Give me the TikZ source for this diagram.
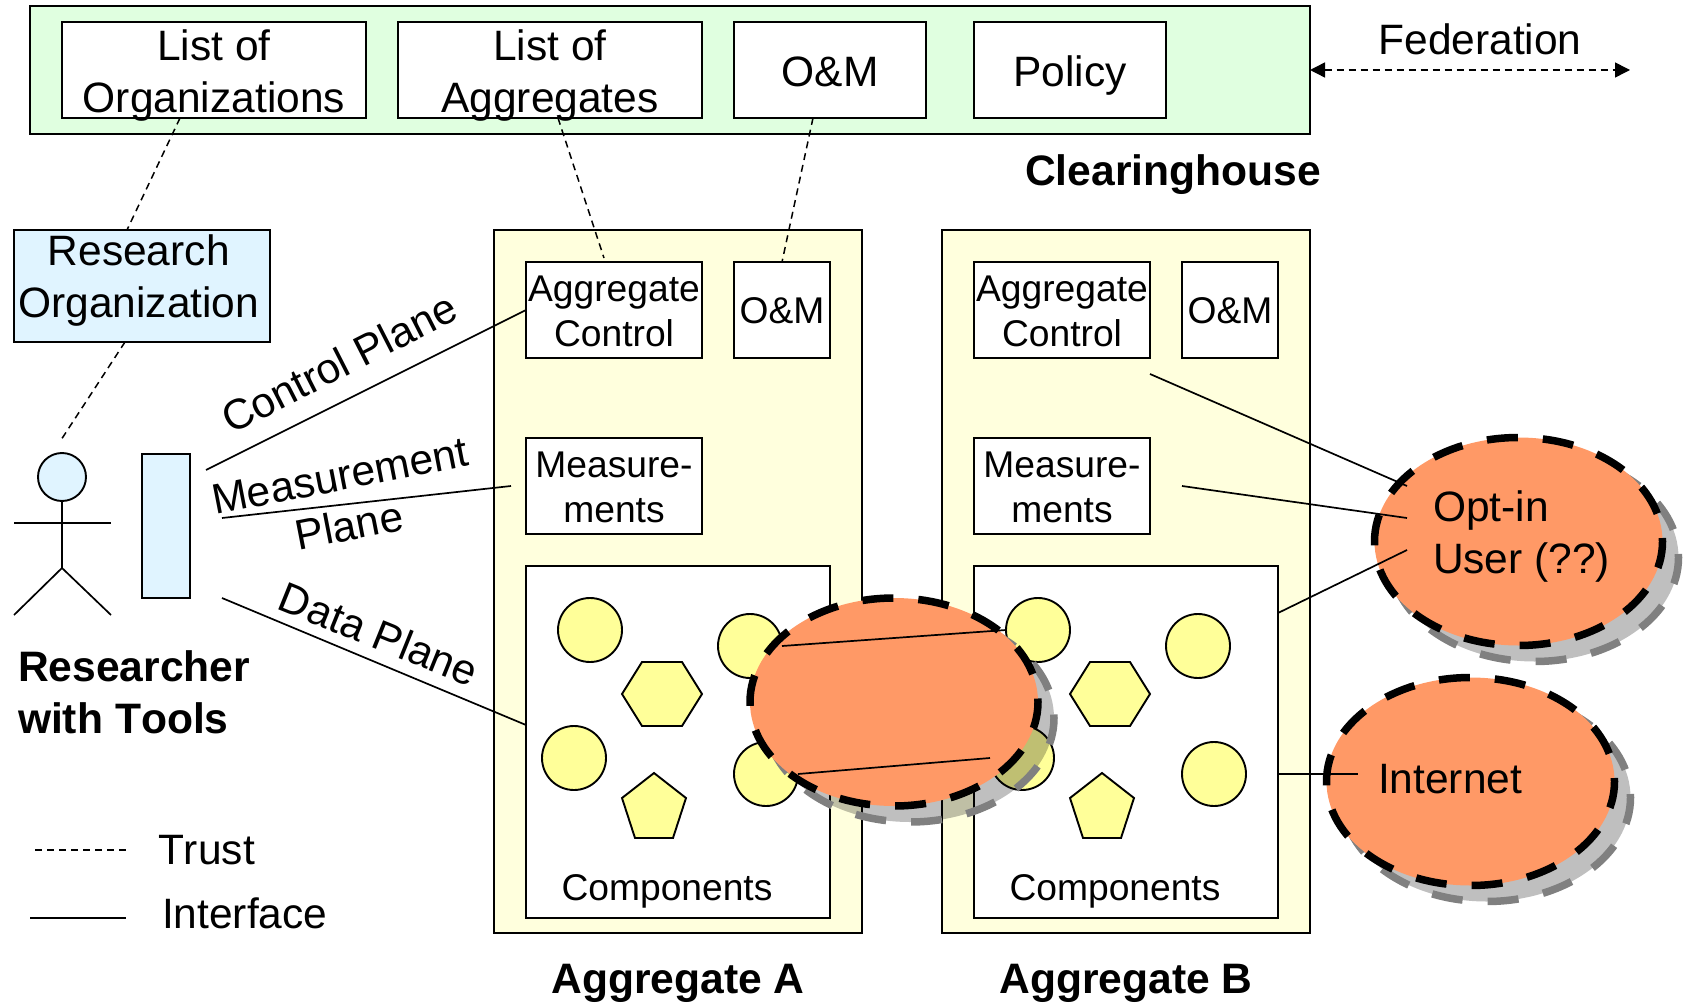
\documentclass[tikz,border=0pt]{standalone}
\usepackage{fontspec}
\setmainfont[Kerning=Off]{Liberation Sans}
\usetikzlibrary{shapes.geometric,arrows.meta}
\definecolor{chgreen}{HTML}{E0FFE0}
\definecolor{paleblue}{HTML}{E0F4FF}
\definecolor{paleyellow}{HTML}{FFFFDD}
\definecolor{compyellow}{HTML}{FFFF99}
\definecolor{blob}{HTML}{FF9966}
\definecolor{blobdash}{HTML}{808080}
\newcommand\boxtext[2]{\raisebox{#1pt}[0pt][0pt]{\begin{tabular}[t]{@{}c@{}}#2\end{tabular}}}
\newcommand\leftlines[1]{\begin{tabular}[t]{@{}l@{}}#1\end{tabular}}
\tikzset{
  big/.style={font=\fontsize{42.5}{52}\selectfont},
  small/.style={font=\fontsize{37.2}{45}\selectfont},
  bold/.style={font=\fontsize{42.6}{52}\selectfont\bfseries},
  outlined/.style={draw=black,line width=1.9pt,inner sep=0pt,outer sep=0pt},
  box/.style={outlined,fill=white},
  wh/.style 2 args={minimum width=#1pt,minimum height=#2pt},
  txt/.style={inner sep=0pt,outer sep=0pt},
  comp/.style={outlined,fill=compyellow,circle,minimum size=64pt},
  compshape/.style={draw=black,line width=1.9pt,fill=compyellow,line join=miter},
  blobshape/.style={ellipse,inner sep=0pt,outer sep=0pt,minimum width=288pt,minimum height=208pt},
  blobtop/.style={blobshape,fill=blob,draw=black,line width=7.5pt,dash pattern=on 31pt off 25.07pt,dash phase=27.5pt},
  blobshadow/.style={blobshape,fill=black,fill opacity=.25,draw=blobdash,draw opacity=1,line width=7.5pt,dash pattern=on 31pt off 25.07pt,dash phase=27.5pt},
  iface/.style={draw=black,line width=1.7pt},
  trust/.style={draw=black,line width=1.5pt,dash pattern=on 7pt off 5pt},
}
\begin{document}
\begin{tikzpicture}[x=1pt,y=-1pt]
\useasboundingbox (0,0) rectangle (1689,1003);
\fill[white] (0,0) rectangle (1689,1003);
% clearinghouse
\node[outlined,fill=chgreen,wh={1280}{128}] (ch) at (670,70) {};
\node[box,wh={304}{96},big] (orgs) at (214,70) {\boxtext{9}{List of\\Organizations}};
\node[box,wh={304}{96},big] (aggs) at (550,70) {\boxtext{9}{List of\\Aggregates}};
\node[box,wh={192}{96},big] (om) at (830,70) {\boxtext{-17}{O\&M}};
\node[box,wh={192}{96},big] (policy) at (1070,70) {\boxtext{-17}{Policy}};
\node[txt,big,anchor=base] (fedlabel) at (1480,55) {Federation};
\node[txt,bold,anchor=base] (chlabel) at (1173,186) {Clearinghouse};
\coordinate (fedend) at (1630,70);
\draw[trust,{Triangle[length=15pt,width=15pt]}-{Triangle[length=15pt,width=15pt]}] (ch.east) -- (fedend);
% research organisation
\node[outlined,fill=paleblue,wh={256}{112},big] (ro) at (142,286) {\hspace*{-6.5pt}\boxtext{21}{Research\\Organization}};
% aggregates
\node[outlined,fill=paleyellow,wh={368}{703}] (agga) at (678,581.5) {};
\node[outlined,fill=paleyellow,wh={368}{703}] (aggb) at (1126,581.5) {};
\node[box,wh={176}{96},small] (acA) at (614,310) {\boxtext{9}{Aggregate\\Control}};
\node[box,wh={96}{96},small] (omA) at (782,310) {\boxtext{-13}{O\&M}};
\node[box,wh={176}{96},small] (mA) at (614,486) {\boxtext{9}{Measure-\\ments}};
\node[box,wh={304}{352}] (cA) at (678,742) {};
\node[box,wh={176}{96},small] (acB) at (1062,310) {\boxtext{9}{Aggregate\\Control}};
\node[box,wh={96}{96},small] (omB) at (1230,310) {\boxtext{-13}{O\&M}};
\node[box,wh={176}{96},small] (mB) at (1062,486) {\boxtext{9}{Measure-\\ments}};
\node[box,wh={304}{352}] (cB) at (1126,742) {};
\node[txt,small,anchor=base] (compA) at (667,900) {Components};
\node[txt,small,anchor=base] (compB) at (1115,900) {Components};
\node[txt,bold,anchor=base] (aggAlabel) at (678,993) {Aggregate A};
\node[txt,bold,anchor=base] (aggBlabel) at (1126,993) {Aggregate B};
% components
\node[comp] (ca1) at (590,630) {};
\node[comp] (ca2) at (750,646) {};
\node[comp] (ca3) at (574,758) {};
\node[comp] (ca4) at (766,774) {};
\node[comp] (cb1) at (1038,630) {};
\node[comp] (cb2) at (1198,646) {};
\node[comp] (cb3) at (1022,758) {};
\node[comp] (cb4) at (1214,774) {};
\foreach \dx in {0,448}{
  \begin{scope}[xshift=\dx pt]
    \draw[compshape] (622,694) -- (642,662) -- (682,662) -- (702,694) -- (682,726) -- (642,726) -- cycle;
    \draw[compshape] (654,773) -- (686,798) -- (673,838) -- (635,838) -- (622,798) -- cycle;
  \end{scope}
}
% overlay blobs
\node[blobshadow] (s1) at (910,718) {};
\node[blobtop] (bm) at (894,702) {};
\node[blobshadow] (s2) at (1534.5,557.5) {};
\node[blobtop] (optin) at (1518.5,541.5) {};
\node[blobshadow] (s3) at (1486.5,797.5) {};
\node[blobtop] (inet) at (1470.5,781.5) {};
\node[txt,big,anchor=base west] (optlabel) at (1433,521) {\leftlines{Opt-in\\User (??)}};
\node[txt,big,anchor=base west] (inetlabel) at (1378,793) {Internet};
% researcher
\node[outlined,fill=paleblue,circle,minimum size=48pt] (head) at (62,477) {};
\coordinate (hip) at (62,568);
\coordinate (armL) at (14,523);
\coordinate (armR) at (111,523);
\coordinate (legL) at (14,615);
\coordinate (legR) at (111,615);
\draw[iface] (head.south) -- (hip) -- (legL);
\draw[iface] (hip) -- (legR);
\draw[iface] (armL) -- (armR);
\node[outlined,fill=paleblue,wh={48}{144}] (tools) at (166,526) {};
\node[txt,bold,anchor=base west] (rlabel) at (18,681) {\leftlines{Researcher\\with Tools}};
% connectors
\coordinate (ctlstart) at (206,470);
\coordinate (msstart) at (222,518);
\coordinate (msend) at (511,486);
\coordinate (datastart) at (222,598);
\coordinate (obend1) at (1407,486);
\coordinate (obend2) at (1407,518);
\coordinate (obend3) at (1407,550);
\coordinate (obstart1) at (1150,374);
\coordinate (obstart2) at (1182,486);
\coordinate (inetend) at (1358,774);
\draw[iface] (ctlstart) -- (acA.west);
\draw[iface] (msstart) -- (msend);
\draw[iface] (datastart) -- ([yshift=-159pt]cA.north west);
\draw[iface] (ca2.east) -- (cb1.west);
\draw[iface] (ca4.east) -- (cb3.west);
\draw[iface] (obstart1) -- (obend1);
\draw[iface] (obstart2) -- (obend2);
\draw[iface] ([yshift=-47pt]cB.north east) -- (obend3);
\draw[iface] ([yshift=-208pt]cB.north east) -- (inetend);
\coordinate (actortop) at (61,440);
\coordinate (acAtop) at (604,258);
\draw[trust] ([xshift=118pt]orgs.south west) -- ([xshift=113pt]ro.north west);
\draw[trust] ([xshift=111pt]ro.south west) -- (actortop);
\draw[trust] ([xshift=160pt]aggs.south west) -- (acAtop);
\draw[trust] ([xshift=79pt]om.south west) -- (omA.north);
% plane labels
\node[txt,big,rotate=27] (cplabel) at (339,363) {Control Plane};
\node[txt,big,rotate=11] (mplabel) at (340,476) {Measurement};
\node[txt,big,rotate=11] (pllabel) at (349,525) {Plane};
\node[txt,big,rotate=-22] (dplabel) at (379,634) {Data Plane};
% legend
\coordinate (ltA) at (35,850);
\coordinate (ltB) at (127,850);
\coordinate (liA) at (30,918);
\coordinate (liB) at (126,918);
\draw[trust] (ltA) -- (ltB);
\draw[iface] (liA) -- (liB);
\node[txt,big,anchor=base west] (trustlabel) at (158,864) {Trust};
\node[txt,big,anchor=base west] (ifacelabel) at (162,928) {Interface};
\end{tikzpicture}
\end{document}
